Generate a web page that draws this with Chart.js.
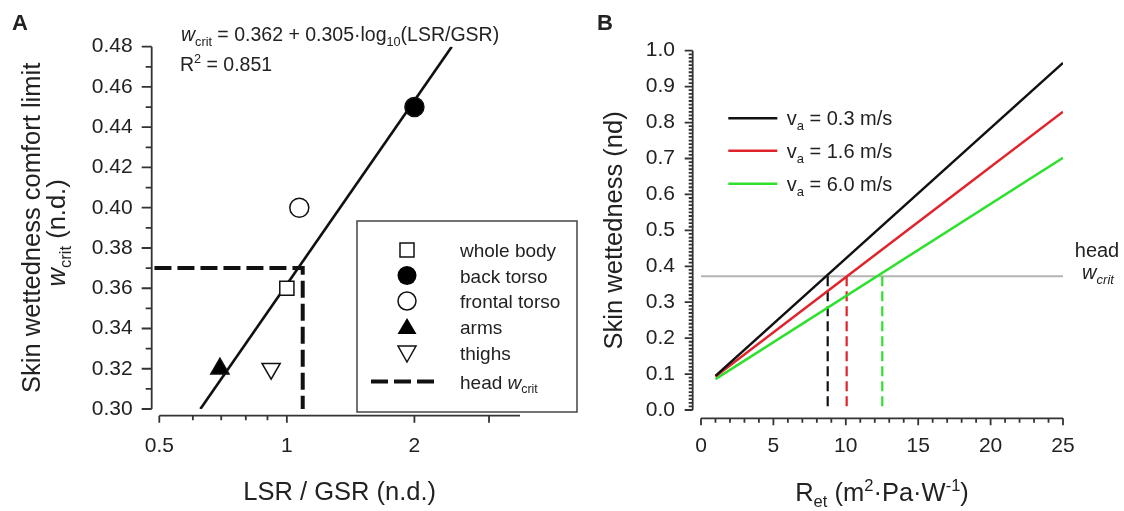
<!DOCTYPE html>
<html>
<head>
<meta charset="utf-8">
<script src="https://cdn.jsdelivr.net/npm/chart.js@4.4.1/dist/chart.umd.min.js"></script>
<style>
  html, body { margin: 0; padding: 0; background: #fff; }
  #wrap { position: relative; width: 1124px; height: 511px; overflow: hidden; }
  canvas { position: absolute; top: 0; }
  #chartA { left: 0; }
  #chartB { left: 580px; }
</style>
</head>
<body>
<div id="wrap">
  <canvas id="chartA" width="580" height="511"></canvas>
  <canvas id="chartB" width="544" height="511"></canvas>
</div>
<script>
// Panel A data
const regions = ['whole body', 'back torso', 'frontal torso', 'arms', 'thighs'];
const lsrGsr = [1.0, 2.0, 1.07, 0.695, 0.918];
const wcrit = [0.36, 0.45, 0.40, 0.32, 0.32];
const fitX = [0.625, 2.45];
const fitY = [0.30, 0.48];
const headX = [0.487, 1.09, 1.09];
const headY = [0.37, 0.37, 0.30];
const xTicksA = [0.5, 0.6, 0.7, 0.8, 0.9, 1, 2, 3];
const xLabelsA = [0.5, 1, 2];
const yTicksA = [0.30, 0.32, 0.34, 0.36, 0.38, 0.40, 0.42, 0.44, 0.46, 0.48];

// Panel B data
const vaLabels = ['0.3', '1.6', '6.0'];
const retEnds = [1, 25];
const wet03 = [0.095, 0.966];
const wet16 = [0.093, 0.830];
const wet60 = [0.086, 0.702];
const headWcrit = 0.372;
const retCross = [8.75, 10.06, 12.52];
const xTicksB = [0, 5, 10, 15, 20, 25];
const yTicksB = [0.0, 0.1, 0.2, 0.3, 0.4, 0.5, 0.6, 0.7, 0.8, 0.9, 1.0];

const FAMILY = "'Liberation Sans', Arial, sans-serif";
const TXT = '#222';
const vaColors = ['#111111', '#e0242c', '#2fe02f'];

// texto com subscrito / sobrescrito / itálico
function drawRich(ctx, parts, x, y, size, align = 'left', rot = 0) {
  ctx.save();
  ctx.translate(x, y);
  if (rot) ctx.rotate(rot);
  ctx.fillStyle = TXT;
  ctx.textBaseline = 'alphabetic';
  ctx.textAlign = 'left';
  const pieces = parts.map(p => {
    const s = (p.sub || p.sup) ? size * 0.65 : size;
    const f = `${p.i ? 'italic ' : ''}${p.b ? 'bold ' : ''}${s}px ${FAMILY}`;
    ctx.font = f;
    return { ...p, f, w: ctx.measureText(p.t).width, dy: p.sub ? size * 0.25 : p.sup ? -size * 0.38 : 0 };
  });
  const total = pieces.reduce((a, p) => a + p.w, 0);
  let cx = align === 'center' ? -total / 2 : align === 'right' ? -total : 0;
  pieces.forEach(p => {
    ctx.font = p.f;
    ctx.fillText(p.t, cx, p.dy);
    cx += p.w;
  });
  ctx.restore();
}

function pts(xs, ys) {
  return xs.map((x, i) => ({ x, y: ys[i] }));
}

const tickFont = { family: FAMILY, size: 21 };

// ---------- Panel A ----------
const markerStyles = [
  { pointStyle: 'rect', pointRadius: 10, backgroundColor: '#fff' },
  { pointStyle: 'circle', pointRadius: 9.5, backgroundColor: '#000' },
  { pointStyle: 'circle', pointRadius: 9.5, backgroundColor: '#fff' },
  { pointStyle: 'triangle', pointRadius: 10.5, backgroundColor: '#000' },
  { pointStyle: 'triangle', pointRadius: 10.5, backgroundColor: '#fff', rotation: 180 }
];

const decorA = {
  id: 'decorA',
  afterDraw(chart) {
    const { ctx, scales: { x, y } } = chart;
    const axX = x.getPixelForValue(0.5) - 7.6;
    const axY = y.getPixelForValue(0.30) + 6.7;
    ctx.save();
    ctx.strokeStyle = '#333';
    ctx.lineWidth = 1.8;
    ctx.beginPath();
    ctx.moveTo(axX, y.getPixelForValue(0.48));
    ctx.lineTo(axX, y.getPixelForValue(0.30));
    for (let k = 30; k <= 48; k++) {
      const py = y.getPixelForValue(k / 100);
      ctx.moveTo(axX, py);
      ctx.lineTo(axX - (k % 2 === 0 ? 10 : 6), py);
    }
    ctx.moveTo(x.getPixelForValue(0.5), axY);
    ctx.lineTo(x.right, axY);
    xTicksA.forEach(v => {
      const px = x.getPixelForValue(v);
      ctx.moveTo(px, axY);
      ctx.lineTo(px, axY + (xLabelsA.includes(v) || v === 3 ? 7 : 4.5));
    });
    ctx.stroke();

    // legenda
    const bx = 357, by = 221, bw = 220, bh = 191;
    ctx.fillStyle = '#fff';
    ctx.fillRect(bx, by, bw, bh);
    ctx.strokeStyle = '#444';
    ctx.lineWidth = 1.5;
    ctx.strokeRect(bx, by, bw, bh);
    const mx = 407, rows = [250, 275.5, 301, 327, 353, 381.5];
    ctx.lineWidth = 1.5;
    ctx.strokeStyle = '#111';
    // square
    ctx.fillStyle = '#fff';
    ctx.fillRect(mx - 7, rows[0] - 7, 14, 14);
    ctx.strokeRect(mx - 7, rows[0] - 7, 14, 14);
    // filled circle
    ctx.beginPath(); ctx.arc(mx, rows[1], 9.5, 0, Math.PI * 2);
    ctx.fillStyle = '#000'; ctx.fill();
    // open circle
    ctx.beginPath(); ctx.arc(mx, rows[2], 9, 0, Math.PI * 2);
    ctx.fillStyle = '#fff'; ctx.fill(); ctx.stroke();
    // triangle
    ctx.beginPath();
    ctx.moveTo(mx, rows[3] - 9); ctx.lineTo(mx + 9.5, rows[3] + 7); ctx.lineTo(mx - 9.5, rows[3] + 7); ctx.closePath();
    ctx.fillStyle = '#000'; ctx.fill();
    // inverted triangle
    ctx.beginPath();
    ctx.moveTo(mx, rows[4] + 9); ctx.lineTo(mx + 9, rows[4] - 7); ctx.lineTo(mx - 9, rows[4] - 7); ctx.closePath();
    ctx.fillStyle = '#fff'; ctx.fill(); ctx.stroke();
    // dashed
    ctx.setLineDash([17, 6]);
    ctx.lineWidth = 4;
    ctx.beginPath(); ctx.moveTo(371, rows[5]); ctx.lineTo(434, rows[5]); ctx.stroke();
    ctx.setLineDash([]);
    regions.forEach((r, i) => drawRich(ctx, [{ t: r }], 460, rows[i] + 7, 19));
    drawRich(ctx, [{ t: 'head ' }, { t: 'w', i: true }, { t: 'crit', sub: true }], 460, rows[5] + 7, 19);

    // textos
    drawRich(ctx, [{ t: 'A', b: true }], 12, 30, 22);
    drawRich(ctx, [{ t: 'w', i: true }, { t: 'crit', sub: true }, { t: ' = 0.362 + 0.305·log' }, { t: '10', sub: true }, { t: '(LSR/GSR)' }], 181, 41, 19.5);
    drawRich(ctx, [{ t: 'R' }, { t: '2', sup: true }, { t: ' = 0.851' }], 180, 70.5, 19.5);
    const cy = (y.top + y.bottom) / 2;
    drawRich(ctx, [{ t: 'Skin wettedness comfort limit' }], 40, cy, 25.5, 'center', -Math.PI / 2);
    drawRich(ctx, [{ t: 'w', i: true }, { t: 'crit', sub: true }, { t: ' (n.d.)' }], 65, cy + 5, 25.5, 'center', -Math.PI / 2);
    drawRich(ctx, [{ t: 'LSR / GSR (n.d.)' }], (x.left + x.right) / 2, 500, 25.5, 'center');
    ctx.restore();
  }
};

const datasetsA = regions.map((r, i) => ({
  label: r,
  data: [{ x: lsrGsr[i], y: wcrit[i] }],
  borderColor: '#111',
  borderWidth: 1.5,
  showLine: false,
  ...markerStyles[i]
}));
datasetsA.push({
  label: 'fit',
  data: pts(fitX, fitY),
  showLine: true,
  pointRadius: 0,
  borderColor: '#111',
  borderWidth: 2.6
});
datasetsA.push({
  label: 'head wcrit',
  data: pts(headX, headY),
  showLine: true,
  pointRadius: 0,
  borderColor: '#111',
  borderWidth: 4,
  borderDash: [17, 6],
  clip: false
});

new Chart(document.getElementById('chartA'), {
  type: 'scatter',
  data: { datasets: datasetsA },
  options: {
    responsive: false,
    animation: false,
    layout: { padding: { top: 46.7, right: 60, left: 0, bottom: 0 } },
    plugins: { legend: { display: false }, tooltip: { enabled: false } },
    scales: {
      x: {
        type: 'logarithmic',
        min: 0.5,
        max: 3.55,
        afterBuildTicks: s => { s.ticks = xTicksA.map(v => ({ value: v })); },
        afterFit: s => { s.height = 511 - 409; },
        ticks: {
          autoSkip: false, maxRotation: 0, padding: 24.5, color: TXT, font: tickFont,
          callback: v => xLabelsA.includes(v) ? String(v) : ''
        },
        grid: { display: false, drawTicks: false },
        border: { display: false }
      },
      y: {
        min: 0.30,
        max: 0.48,
        afterBuildTicks: s => { s.ticks = yTicksA.map(v => ({ value: v })); },
        afterFit: s => { s.width = 159.3; },
        ticks: { padding: 26.6, color: TXT, font: tickFont, callback: v => v.toFixed(2) },
        grid: { display: false, drawTicks: false },
        border: { display: false }
      }
    }
  },
  plugins: [decorA]
});

// ---------- Panel B ----------
const decorB = {
  id: 'decorB',
  afterDraw(chart) {
    const { ctx, scales: { x, y } } = chart;
    const axX = x.getPixelForValue(0) - 8.3;
    const axY = y.getPixelForValue(0) + 8.3;
    ctx.save();
    ctx.strokeStyle = '#333';
    ctx.lineWidth = 1.8;
    ctx.beginPath();
    ctx.moveTo(axX, y.getPixelForValue(1));
    ctx.lineTo(axX, y.getPixelForValue(0));
    for (let k = 0; k <= 100; k++) {
      const py = y.getPixelForValue(k / 100);
      ctx.moveTo(axX, py);
      ctx.lineTo(axX - (k % 10 === 0 ? 8 : 4), py);
    }
    ctx.moveTo(x.getPixelForValue(0), axY);
    ctx.lineTo(x.getPixelForValue(25), axY);
    for (let k = 0; k <= 25; k++) {
      const px = x.getPixelForValue(k);
      ctx.moveTo(px, axY);
      ctx.lineTo(px, axY + (k % 5 === 0 ? 7 : 4.5));
    }
    ctx.stroke();

    // legenda
    const rows = [118.3, 150.7, 183.7];
    ctx.lineWidth = 2.5;
    vaLabels.forEach((v, i) => {
      ctx.strokeStyle = vaColors[i];
      ctx.beginPath(); ctx.moveTo(148.3, rows[i]); ctx.lineTo(197.3, rows[i]); ctx.stroke();
      drawRich(ctx, [{ t: 'v' }, { t: 'a', sub: true }, { t: ` = ${v} m/s` }], 206.7, rows[i] + 7, 20);
    });

    drawRich(ctx, [{ t: 'B', b: true }], 17, 30, 22);
    drawRich(ctx, [{ t: 'head' }], 517, 256.5, 20, 'center');
    drawRich(ctx, [{ t: 'w', i: true }, { t: 'crit', sub: true, i: true }], 518, 279, 20, 'center');
    drawRich(ctx, [{ t: 'Skin wettedness (nd)' }], 42, (y.top + y.bottom) / 2, 25.5, 'center', -Math.PI / 2);
    drawRich(ctx, [{ t: 'R' }, { t: 'et', sub: true }, { t: ' (m' }, { t: '2', sup: true }, { t: '·Pa·W' }, { t: '-1', sup: true }, { t: ')' }],
      (x.left + x.right) / 2, 500.5, 25.5, 'center');
    ctx.restore();
  }
};

const wetSeries = [wet03, wet16, wet60];
const datasetsB = [];
wetSeries.forEach((w, i) => {
  datasetsB.push({
    label: `va = ${vaLabels[i]} m/s`,
    data: pts(retEnds, w),
    showLine: true,
    pointRadius: 0,
    borderColor: vaColors[i],
    borderWidth: 2.5
  });
});
retCross.forEach((r, i) => {
  datasetsB.push({
    label: `cross ${vaLabels[i]}`,
    data: [{ x: r, y: headWcrit }, { x: r, y: 0 }],
    showLine: true,
    pointRadius: 0,
    borderColor: vaColors[i],
    borderWidth: 2.2,
    borderDash: [10, 5],
    clip: false
  });
});
datasetsB.push({
  label: 'head wcrit',
  data: [{ x: 0, y: headWcrit }, { x: 25, y: headWcrit }],
  showLine: true,
  pointRadius: 0,
  borderColor: '#b4b4b4',
  borderWidth: 2
});

new Chart(document.getElementById('chartB'), {
  type: 'scatter',
  data: { datasets: datasetsB },
  options: {
    responsive: false,
    animation: false,
    layout: { padding: { top: 50.7, right: 61, left: 0, bottom: 0 } },
    plugins: { legend: { display: false }, tooltip: { enabled: false } },
    scales: {
      x: {
        min: 0,
        max: 25,
        afterBuildTicks: s => { s.ticks = xTicksB.map(v => ({ value: v })); },
        afterFit: s => { s.height = 511 - 410; },
        ticks: { autoSkip: false, maxRotation: 0, padding: 24, color: TXT, font: tickFont, callback: v => String(v) },
        grid: { display: false, drawTicks: false },
        border: { display: false }
      },
      y: {
        min: 0,
        max: 1,
        afterBuildTicks: s => { s.ticks = yTicksB.map(v => ({ value: v })); },
        afterFit: s => { s.width = 121; },
        ticks: { padding: 26, color: TXT, font: tickFont, callback: v => v.toFixed(1) },
        grid: { display: false, drawTicks: false },
        border: { display: false }
      }
    }
  },
  plugins: [decorB]
});
</script>
</body>
</html>
